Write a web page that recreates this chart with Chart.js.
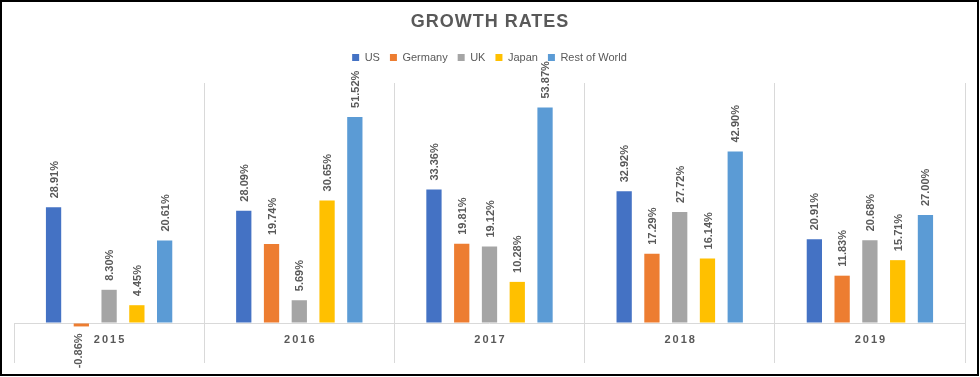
<!DOCTYPE html>
<html>
<head>
<meta charset="utf-8">
<script src="https://cdn.jsdelivr.net/npm/chart.js@4.4.1/dist/chart.umd.min.js"></script>
<style>
  html, body { margin: 0; padding: 0; background: #fff; }
  #wrap { width: 980px; height: 377px; position: relative; }
</style>
</head>
<body>
<div id="wrap"><canvas id="growth-chart" width="980" height="377"></canvas></div>
<script>
// chart data
const years = ['2015', '2016', '2017', '2018', '2019'];
const usRates = [28.91, 28.09, 33.36, 32.92, 20.91];
const germanyRates = [-0.86, 19.74, 19.81, 17.29, 11.83];
const ukRates = [8.30, 5.69, 19.12, 27.72, 20.68];
const japanRates = [4.45, 30.65, 10.28, 16.14, 15.71];
const restOfWorldRates = [20.61, 51.52, 53.87, 42.90, 27.00];

const textColor = '#595959';
const gridColor = '#D9D9D9';

// extra room between legend and plot
const legendGapPlugin = {
    id: 'legendGap',
    beforeInit(chart) {
        const origFit = chart.legend.fit;
        chart.legend.fit = function() {
            origFit.bind(chart.legend)();
            this.height += 10;
        };
    }
};

// title, bar labels, year labels and the outer frame
const extrasPlugin = {
    id: 'extras',
    afterDatasetsDraw(chart) {
        const ctx = chart.ctx;
        const x = chart.scales.x;
        const y = chart.scales.y;

        // value labels, rotated
        ctx.save();
        ctx.font = 'bold 11px "Liberation Sans", Arial, sans-serif';
        ctx.fillStyle = textColor;
        ctx.textBaseline = 'middle';
        chart.data.datasets.forEach((ds, i) => {
            const meta = chart.getDatasetMeta(i);
            meta.data.forEach((bar, j) => {
                const v = ds.data[j];
                const label = v.toFixed(2) + '%';
                ctx.save();
                ctx.translate(bar.x, bar.y);
                ctx.rotate(-Math.PI / 2);
                if (v >= 0) {
                    ctx.textAlign = 'left';
                    ctx.fillText(label, 9, 1);
                } else {
                    ctx.textAlign = 'right';
                    ctx.fillText(label, -7, -2);
                }
                ctx.restore();
            });
        });
        ctx.restore();

        // year labels sit inside the plot, under the zero line
        ctx.save();
        ctx.font = 'bold 11px "Liberation Sans", Arial, sans-serif';
        ctx.letterSpacing = '2px';
        ctx.fillStyle = textColor;
        ctx.textAlign = 'center';
        ctx.textBaseline = 'middle';
        years.forEach((yr, i) => {
            ctx.fillText(yr, x.getPixelForValue(i) + 1, y.getPixelForValue(-4.2));
        });
        ctx.restore();

        // left edge line only below the zero line
        ctx.save();
        ctx.strokeStyle = gridColor;
        ctx.lineWidth = 1;
        ctx.beginPath();
        ctx.moveTo(Math.round(chart.chartArea.left) + 0.5, y.getPixelForValue(0));
        ctx.lineTo(Math.round(chart.chartArea.left) + 0.5, chart.chartArea.bottom);
        ctx.stroke();
        ctx.restore();
    },
    afterDraw(chart) {
        const ctx = chart.ctx;
        ctx.save();
        ctx.font = 'bold 18px "Liberation Sans", Arial, sans-serif';
        ctx.letterSpacing = '1px';
        ctx.fillStyle = textColor;
        ctx.textAlign = 'center';
        ctx.textBaseline = 'middle';
        ctx.fillText('GROWTH RATES', 490, 22);
        ctx.restore();

        ctx.save();
        ctx.strokeStyle = '#000';
        ctx.lineWidth = 2;
        ctx.strokeRect(1, 1, 977, 374);
        ctx.restore();
    }
};

const ctx = document.getElementById('growth-chart').getContext('2d');

new Chart(ctx, {
    type: 'bar',
    data: {
        labels: years,
        datasets: [
            { label: 'US', data: usRates, backgroundColor: '#4472C4' },
            { label: 'Germany', data: germanyRates, backgroundColor: '#ED7D31' },
            { label: 'UK', data: ukRates, backgroundColor: '#A5A5A5' },
            { label: 'Japan', data: japanRates, backgroundColor: '#FFC000' },
            { label: 'Rest of World', data: restOfWorldRates, backgroundColor: '#5B9BD5' }
        ]
    },
    options: {
        responsive: false,
        animation: false,
        devicePixelRatio: 1,
        categoryPercentage: 0.73,
        barPercentage: 0.55,
        layout: {
            padding: { top: 42, left: 14, right: 15, bottom: 14 }
        },
        plugins: {
            title: { display: false },
            tooltip: { enabled: false },
            legend: {
                position: 'top',
                labels: {
                    boxWidth: 7,
                    boxHeight: 7,
                    padding: 10,
                    color: textColor,
                    font: { family: '"Liberation Sans", Arial, sans-serif', size: 11 }
                }
            }
        },
        scales: {
            x: {
                offset: true,
                border: { display: false },
                grid: {
                    offset: true,
                    drawTicks: false,
                    color: (c) => (c.index === 0 ? 'rgba(0,0,0,0)' : gridColor)
                },
                ticks: { display: false }
            },
            y: {
                min: -10,
                max: 60,
                border: { display: false },
                grid: {
                    drawTicks: false,
                    color: (c) => (c.tick && c.tick.value === 0 ? gridColor : 'rgba(0,0,0,0)')
                },
                ticks: { display: false, stepSize: 10 }
            }
        }
    },
    plugins: [legendGapPlugin, extrasPlugin]
});
</script>
</body>
</html>
